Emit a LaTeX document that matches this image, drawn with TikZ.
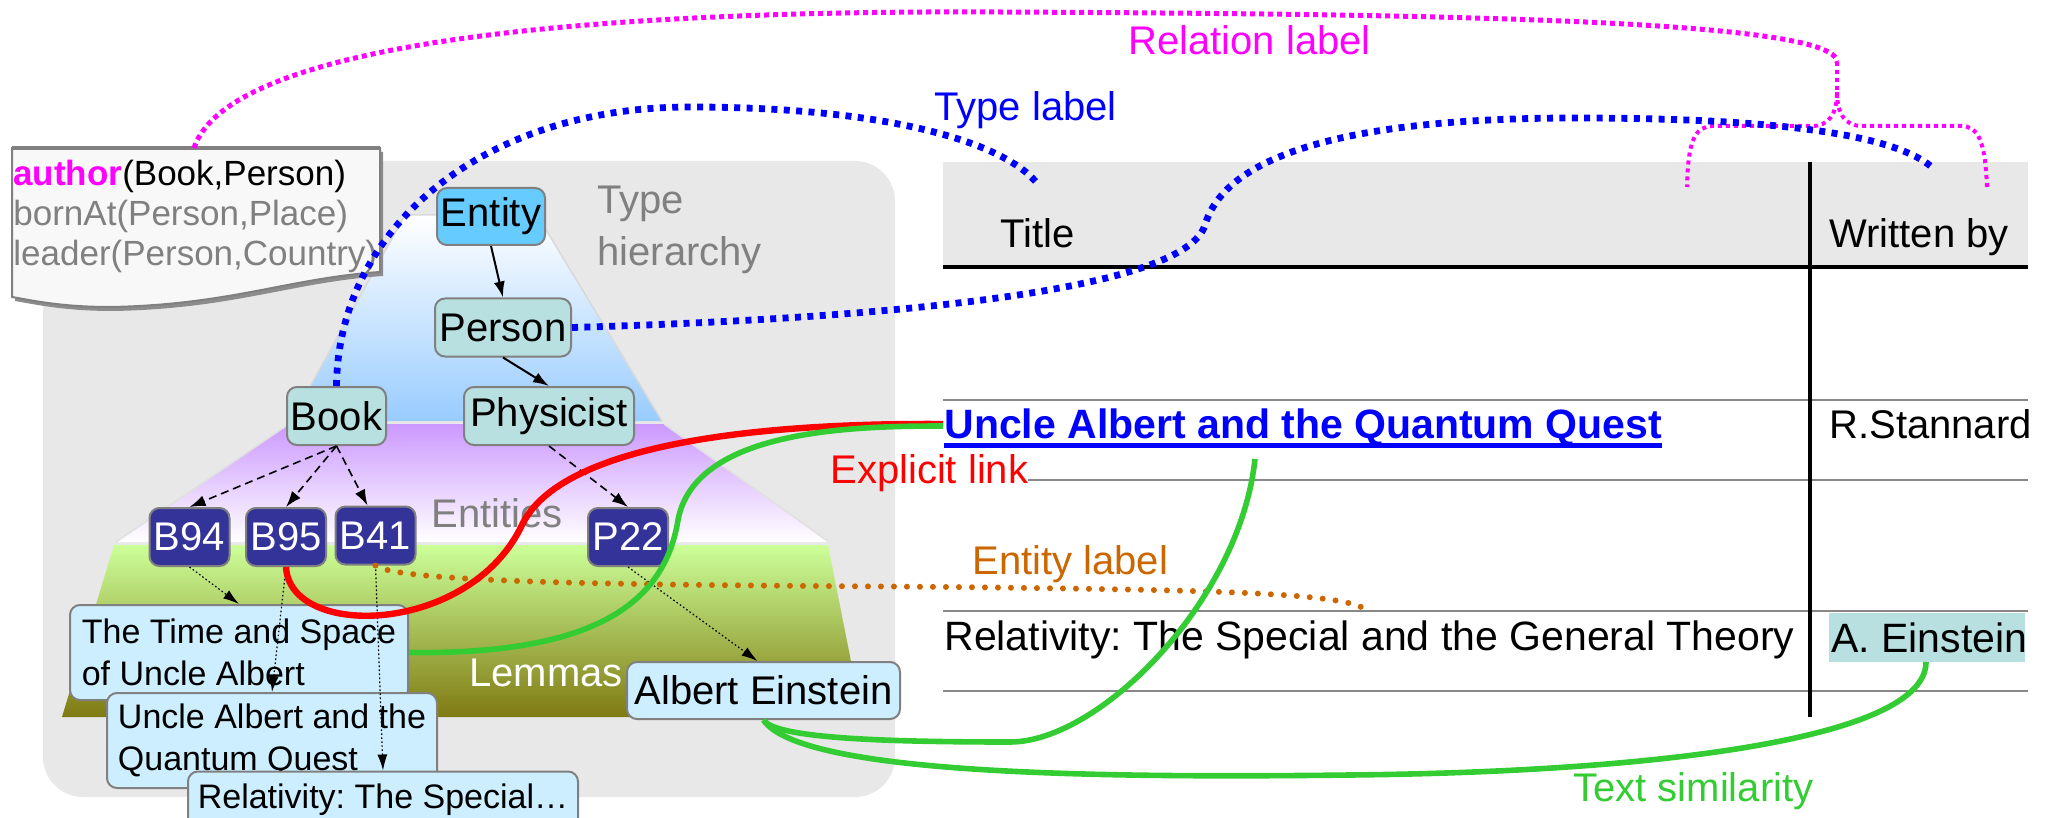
\documentclass[tikz,border=0pt]{standalone}
\usepackage{fontspec}
\setmainfont{Liberation Sans}
\usetikzlibrary{arrows.meta}
\frenchspacing
\definecolor{panelgray}{HTML}{E8E8E8}
\definecolor{entblue}{HTML}{66CCFF}
\definecolor{typefill}{HTML}{B8E0E0}
\definecolor{navy}{HTML}{333399}
\definecolor{lemfill}{HTML}{CCEEFF}
\definecolor{lblue}{HTML}{99CCFF}
\definecolor{lpurple}{HTML}{CC99FF}
\definecolor{lgreen}{HTML}{CCFF99}
\definecolor{olivedark}{HTML}{807A12}
\definecolor{mag}{HTML}{FF00FF}
\definecolor{orng}{HTML}{CC6600}
\definecolor{grn}{HTML}{33CC33}
\definecolor{txtgray}{HTML}{808080}
\definecolor{notefill}{HTML}{F8F8F8}
\definecolor{rowgray}{HTML}{888888}
\begin{document}
\frenchspacing
\begin{tikzpicture}[x=0.5pt,y=-0.5pt,font=\fontsize{20}{24}\selectfont,
  box/.style={draw=txtgray,line width=1pt,rounded corners=5pt,inner sep=0pt},
  tnode/.style={box,fill=typefill,minimum height=29pt},
  bnode/.style={box,fill=navy,text=white,minimum width=40pt,minimum height=29pt},
  lemma/.style={box,fill=lemfill,align=left,font=\fontsize{17}{21}\selectfont},
  lbl/.style={anchor=base west,inner sep=0pt},
  notetext/.style={anchor=base west,inner sep=0pt,font=\fontsize{17.5}{20}\selectfont},
  solidarr/.style={-{Latex[length=8pt,width=5.5pt]},line width=1pt},
  dasharr/.style={-{Latex[length=8pt,width=5.5pt]},line width=0.8pt,dash pattern=on 4pt off 2.5pt},
  dotarr/.style={-{Latex[length=8pt,width=5pt]},line width=0.6pt,dash pattern=on 0.8pt off 1.2pt},
  bluedot/.style={blue,line width=3.4pt,dash pattern=on 3pt off 3.2pt},
  magarc/.style={mag,line width=2.5pt,dash pattern=on 2.5pt off 2pt},
  magbrace/.style={mag,line width=2pt,dash pattern=on 2pt off 2pt},
  orangedot/.style={orng,line width=3pt,line cap=round,dash pattern=on 0pt off 6.5pt},
  redlink/.style={red,line width=3.2pt},
  greenlink/.style={grn,line width=2.8pt},
  rowline/.style={rowgray,line width=1.25pt}
]
\useasboundingbox (0,0) rectangle (2056,818);
\clip (0,0) rectangle (2056,818);

% panel
\fill[panelgray,rounded corners=20pt] (43,161) rectangle (895,797);

% pyramid
\shade[top color=white,bottom color=lblue] (405,215) -- (537,215) -- (662,421) -- (291,421) -- cycle;
\draw[black!15,line width=0.75pt] (291,421) -- (405,215) -- (537,215) -- (662,421);
\shade[top color=lpurple,bottom color=white] (289,424) -- (664,424) -- (829,542) -- (116,542) -- cycle;
\draw[black!12,line width=0.75pt] (116,542) -- (289,424);
\draw[black!12,line width=0.75pt] (829,542) -- (664,424);
\shade[top color=lgreen,bottom color=olivedark] (114,545) -- (828,545) -- (862,717) -- (62,717) -- cycle;

% pyramid labels
\node[lbl,text=txtgray] (typeh1) at (597,214) {Type};
\node[lbl,text=txtgray] (typeh2) at (597,266) {hierarchy};
\node[lbl,text=txtgray] (entl) at (431,527) {Entities};
\node[lbl,text=white] (leml) at (469,686) {Lemmas};

% note (relations)
\path[fill=black!45,shift={(3,4)}] (12,148) -- (380,148) -- (380,272) .. controls (290,278) and (230,305) .. (110,307) .. controls (60,307) and (30,300) .. (12,297) -- cycle;
\draw[draw=txtgray,line width=1pt,fill=notefill] (12,148) -- (380,148) -- (380,272) .. controls (290,278) and (230,305) .. (110,307) .. controls (60,307) and (30,300) .. (12,297) -- cycle;
\draw[txtgray,line width=2pt] (12,148) -- (380,148);
\coordinate (notetop) at (194,148);
\node[notetext] (rel1) at (13,186) {\textcolor{mag}{\textbf{author}}(Book,Person)};
\node[notetext,text=txtgray] (rel2) at (13,226) {bornAt(Person,Place)};
\node[notetext,text=txtgray] (rel3) at (13,266) {leader(Person,Country)};

% type nodes
\node[box,fill=entblue,minimum width=54pt,minimum height=28.5pt] (entity) at (491,216.5) {Entity};
\node[tnode,minimum width=68pt] (person) at (503,327.5) {Person};
\node[tnode,minimum width=49.5pt] (book) at (336.5,416) {Book};
\node[tnode,minimum width=85pt] (physicist) at (549,416) {Physicist};

% entity nodes
\node[bnode] (b94) at (189.5,537) {B94};
\node[bnode] (b95) at (286,537) {B95};
\node[bnode] (b41) at (375.5,535.5) {B41};
\node[bnode] (p22) at (628,537) {P22};

% lemma nodes
\node[lemma,minimum width=169pt,minimum height=47.5pt] (time) at (239,652.5) {The Time and Space\\of Uncle Albert};
\node[lemma,minimum width=165pt,minimum height=47.5pt] (quantum) at (272,740.5) {Uncle Albert and the\\Quantum Quest};
\node[lemma,minimum width=195pt,minimum height=28.5pt] (relativity) at (383,800) {Relativity: The Special…};
\node[box,fill=lemfill,minimum width=136.5pt,minimum height=28.5pt] (albert) at (763.5,690.5) {Albert Einstein};

% hierarchy arrows
\draw[solidarr] (entity.south) -- (person.north);
\draw[solidarr] (person.south) -- (physicist.north);
\draw[dasharr] (book.south) -- (b94.north);
\draw[dasharr] (book.south) -- (b95.north);
\draw[dasharr] (book.south) -- ([xshift=-4pt]b41.north);
\draw[dasharr] (physicist.south) -- (p22.north);
\draw[dotarr] (b94.south) -- (time.north);
\draw[dotarr] (b95.south) -- (quantum.north);
\draw[dotarr] (b41.south) -- (relativity.north);
\draw[dotarr] (p22.south) -- ([xshift=-3pt]albert.north);

% table
\fill[panelgray] (943,162) rectangle (2028,267);
\fill[typefill] (1829,613) rectangle (2025,662);
\draw[line width=2pt] (943,267) -- (2028,267);
\draw[rowline] (943,400) -- (2028,400);
\draw[rowline] (1028,480) -- (2028,480);
\draw[rowline] (943,611) -- (2028,611);
\draw[rowline] (943,691) -- (2028,691);
\draw[line width=1.75pt] (1810,162) -- (1810,717);
\node[lbl] (title) at (1000,248) {Title};
\node[lbl] (written) at (1829,248) {Written by};
\node[lbl,text=blue,font=\fontsize{20.5}{24}\selectfont\bfseries] (link) at (944,438) {Uncle Albert and the Quantum Quest};
\draw[blue,line width=2.5pt] ([yshift=-3.75pt]link.base west) -- ([yshift=-3.75pt]link.base east);
\node[lbl] (stannard) at (1829,438) {R.Stannard};
\node[lbl,font=\fontsize{20.5}{24}\selectfont] (reltitle) at (944,650) {Relativity: The Special and the General Theory};
\node[lbl,font=\fontsize{20.5}{24}\selectfont] (aeinstein) at (1831,652) {A. Einstein};

% link labels
\node[lbl,text=mag] (rellabel) at (1128,55) {Relation label};
\node[lbl,text=blue] (typelabel) at (934,121) {Type label};
\node[lbl,text=red] (explabel) at (830,483) {Explicit link};
\node[lbl,text=orng] (entlabel) at (972,574) {Entity label};
\node[lbl,text=grn] (simlabel) at (1573,801) {Text similarity};

% colored connectors
\coordinate (linkin) at (943,424);
\coordinate (linkbot) at (1255,459);
\coordinate (titlehd) at (1036,182);
\coordinate (writtenhd) at (1935,170);
\coordinate (entend) at (1366,610);
\coordinate (aebot) at (1926,662);
\coordinate (brace) at (1837,62);
\coordinate (braceL) at (1687,187);
\coordinate (braceR) at (1987,187);

\draw[magarc] (notetop) .. controls (230,40) and (600,10) .. (1000,12) .. controls (1400,14) and (1837,18) .. (brace);
\draw[magbrace] (brace) -- (1837,92) .. controls (1837,115) and (1828,126) .. (1812,126) -- (1712,126) .. controls (1695,127) and (1688,140) .. (braceL);
\draw[magbrace] (1837,92) .. controls (1837,115) and (1846,126) .. (1862,126) -- (1962,126) .. controls (1978,127) and (1985,140) .. (braceR);

\draw[bluedot] (book.north) .. controls (338,230) and (480,107) .. (690,107) .. controls (880,107) and (1000,140) .. (titlehd);
\draw[bluedot] (person.east) .. controls (900,318) and (1185,290) .. (1205,225) .. controls (1230,140) and (1400,118) .. (1575,118) .. controls (1780,118) and (1900,135) .. (writtenhd);

\draw[orangedot] (b41.south) .. controls (400,585) and (700,585) .. (950,587) .. controls (1200,590) and (1345,592) .. (entend);

\draw[redlink] (b95.south) .. controls (290,640) and (470,635) .. (522,525) .. controls (565,435) and (800,423) .. (linkin);
\draw[greenlink] (time.east) .. controls (600,655) and (665,600) .. (678,520) .. controls (695,430) and (850,426) .. ([yshift=-1pt]linkin);
\draw[greenlink] (albert.south) .. controls (775,738) and (880,742) .. (1010,742) .. controls (1100,742) and (1240,600) .. (linkbot);
\draw[greenlink] (albert.south) .. controls (800,775) and (1100,778) .. (1350,775) .. controls (1650,772) and (1926,740) .. (aebot);
\end{tikzpicture}
\end{document}
